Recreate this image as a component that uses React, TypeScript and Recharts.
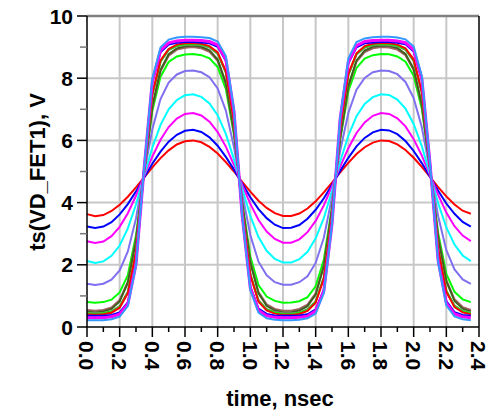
import React from 'react';
import { LineChart, Line, XAxis, YAxis, CartesianGrid, ReferenceLine } from 'recharts';

const time = [
  0, 0.05, 0.1, 0.15, 0.2, 0.25, 0.3, 0.35, 0.4, 0.45, 0.5, 0.55, 0.6, 0.65, 0.7, 0.75,
  0.8, 0.85, 0.9, 0.95, 1.0, 1.05, 1.1, 1.15, 1.2, 1.25, 1.3, 1.35, 1.4, 1.45, 1.5, 1.55,
  1.6, 1.65, 1.7, 1.75, 1.8, 1.85, 1.9, 1.95, 2.0, 2.05, 2.1, 2.15, 2.2, 2.25, 2.3, 2.35,
];

const vRed = [3.63, 3.56, 3.6, 3.73, 3.93, 4.19, 4.49, 4.81, 5.13, 5.43, 5.68, 5.87, 5.97, 6.0, 5.94, 5.79, 5.58, 5.3, 5.0, 4.67, 4.35, 4.06, 3.83, 3.66, 3.57, 3.57, 3.65, 3.81, 4.04, 4.33, 4.64, 4.97, 5.28, 5.56, 5.78, 5.93, 6.0, 5.98, 5.87, 5.69, 5.44, 5.15, 4.83, 4.5, 4.2, 3.94, 3.74, 3.64];
const vBlue = [3.23, 3.18, 3.23, 3.37, 3.62, 3.95, 4.36, 4.81, 5.25, 5.64, 5.96, 6.18, 6.31, 6.34, 6.27, 6.1, 5.83, 5.47, 5.06, 4.61, 4.17, 3.79, 3.5, 3.29, 3.18, 3.19, 3.28, 3.48, 3.77, 4.14, 4.57, 5.02, 5.44, 5.81, 6.08, 6.26, 6.34, 6.32, 6.2, 5.98, 5.66, 5.27, 4.83, 4.38, 3.97, 3.64, 3.38, 3.23];
const vMagenta = [2.76, 2.7, 2.75, 2.92, 3.22, 3.66, 4.22, 4.86, 5.48, 6.02, 6.43, 6.7, 6.85, 6.88, 6.8, 6.6, 6.27, 5.8, 5.21, 4.57, 3.96, 3.44, 3.07, 2.83, 2.71, 2.71, 2.82, 3.05, 3.41, 3.91, 4.52, 5.16, 5.75, 6.24, 6.58, 6.79, 6.88, 6.85, 6.71, 6.45, 6.04, 5.51, 4.88, 4.25, 3.68, 3.24, 2.94, 2.76];
const vCyan = [2.12, 2.06, 2.11, 2.29, 2.62, 3.17, 3.94, 4.87, 5.77, 6.5, 7.0, 7.3, 7.45, 7.48, 7.4, 7.19, 6.81, 6.21, 5.39, 4.45, 3.57, 2.89, 2.45, 2.19, 2.07, 2.07, 2.18, 2.42, 2.85, 3.5, 4.37, 5.32, 6.15, 6.78, 7.17, 7.39, 7.48, 7.46, 7.31, 7.02, 6.53, 5.81, 4.91, 3.98, 3.2, 2.65, 2.3, 2.12];
const vPurple = [1.39, 1.35, 1.39, 1.52, 1.82, 2.43, 3.49, 4.96, 6.36, 7.33, 7.86, 8.12, 8.23, 8.25, 8.19, 8.03, 7.67, 6.96, 5.78, 4.29, 2.96, 2.1, 1.66, 1.44, 1.36, 1.36, 1.44, 1.63, 2.06, 2.87, 4.17, 5.67, 6.88, 7.63, 8.01, 8.19, 8.25, 8.23, 8.13, 7.88, 7.36, 6.42, 5.02, 3.56, 2.47, 1.85, 1.53, 1.39];
const vGreen = [0.8, 0.78, 0.8, 0.88, 1.11, 1.67, 2.94, 5.0, 6.95, 8.05, 8.52, 8.7, 8.76, 8.78, 8.74, 8.64, 8.36, 7.66, 6.18, 4.04, 2.27, 1.35, 0.98, 0.84, 0.78, 0.79, 0.83, 0.96, 1.31, 2.16, 3.86, 6.02, 7.58, 8.33, 8.63, 8.74, 8.78, 8.77, 8.7, 8.53, 8.08, 7.02, 5.1, 3.02, 1.71, 1.13, 0.89, 0.8];
const vBrown = [0.55, 0.52, 0.55, 0.63, 0.87, 1.46, 2.81, 5.0, 7.06, 8.22, 8.72, 8.92, 8.98, 9.0, 8.96, 8.85, 8.56, 7.82, 6.25, 3.98, 2.1, 1.12, 0.73, 0.58, 0.52, 0.52, 0.58, 0.72, 1.08, 1.98, 3.79, 6.07, 7.72, 8.53, 8.84, 8.96, 9.0, 8.99, 8.92, 8.74, 8.26, 7.13, 5.1, 2.9, 1.51, 0.89, 0.64, 0.55];
const vOlive = [0.5, 0.47, 0.5, 0.58, 0.82, 1.42, 2.79, 5.0, 7.09, 8.27, 8.77, 8.96, 9.03, 9.05, 9.01, 8.9, 8.6, 7.85, 6.27, 3.97, 2.07, 1.08, 0.68, 0.53, 0.47, 0.47, 0.53, 0.67, 1.04, 1.95, 3.78, 6.09, 7.76, 8.57, 8.89, 9.01, 9.05, 9.04, 8.97, 8.78, 8.3, 7.16, 5.1, 2.88, 1.47, 0.84, 0.59, 0.5];
const vGray = [0.46, 0.44, 0.46, 0.51, 0.67, 1.13, 2.44, 5.06, 7.45, 8.53, 8.9, 9.03, 9.07, 9.08, 9.06, 8.99, 8.78, 8.18, 6.57, 3.79, 1.7, 0.86, 0.58, 0.48, 0.44, 0.44, 0.47, 0.57, 0.83, 1.6, 3.56, 6.37, 8.1, 8.76, 8.98, 9.06, 9.08, 9.07, 9.03, 8.91, 8.55, 7.53, 5.18, 2.53, 1.17, 0.69, 0.52, 0.46];
const vGreen2 = [0.44, 0.42, 0.44, 0.49, 0.65, 1.11, 2.43, 5.06, 7.47, 8.54, 8.92, 9.05, 9.09, 9.1, 9.08, 9.01, 8.8, 8.2, 6.58, 3.78, 1.69, 0.84, 0.56, 0.46, 0.42, 0.42, 0.45, 0.55, 0.81, 1.58, 3.56, 6.37, 8.11, 8.78, 9.0, 9.08, 9.1, 9.09, 9.05, 8.93, 8.57, 7.54, 5.18, 2.52, 1.16, 0.67, 0.5, 0.44];
const vRed2 = [0.41, 0.39, 0.41, 0.46, 0.62, 1.09, 2.41, 5.06, 7.49, 8.57, 8.94, 9.08, 9.12, 9.13, 9.11, 9.03, 8.83, 8.22, 6.59, 3.78, 1.67, 0.81, 0.53, 0.43, 0.39, 0.39, 0.42, 0.52, 0.78, 1.56, 3.55, 6.39, 8.14, 8.8, 9.03, 9.11, 9.13, 9.12, 9.08, 8.96, 8.6, 7.56, 5.18, 2.51, 1.13, 0.64, 0.47, 0.41];
const vBlue2 = [0.36, 0.36, 0.36, 0.39, 0.47, 0.79, 2.05, 5.12, 7.86, 8.83, 9.08, 9.14, 9.16, 9.16, 9.15, 9.12, 9.01, 8.56, 6.9, 3.59, 1.3, 0.59, 0.42, 0.37, 0.36, 0.36, 0.37, 0.41, 0.57, 1.2, 3.33, 6.67, 8.48, 8.99, 9.12, 9.15, 9.16, 9.16, 9.14, 9.09, 8.86, 7.94, 5.26, 2.15, 0.83, 0.48, 0.39, 0.36];
const vMagenta2 = [0.3, 0.3, 0.3, 0.33, 0.41, 0.74, 2.01, 5.12, 7.9, 8.89, 9.14, 9.2, 9.22, 9.22, 9.21, 9.18, 9.07, 8.61, 6.93, 3.58, 1.25, 0.53, 0.36, 0.31, 0.3, 0.3, 0.31, 0.35, 0.51, 1.15, 3.31, 6.7, 8.53, 9.05, 9.18, 9.21, 9.22, 9.22, 9.2, 9.14, 8.91, 7.99, 5.27, 2.12, 0.77, 0.42, 0.33, 0.3];
const vSky = [0.22, 0.22, 0.22, 0.25, 0.33, 0.67, 1.97, 5.14, 7.99, 8.99, 9.24, 9.31, 9.33, 9.33, 9.32, 9.29, 9.18, 8.71, 6.99, 3.57, 1.19, 0.46, 0.28, 0.23, 0.22, 0.22, 0.23, 0.28, 0.43, 1.09, 3.29, 6.75, 8.63, 9.16, 9.28, 9.32, 9.33, 9.33, 9.31, 9.25, 9.02, 8.07, 5.29, 2.07, 0.7, 0.34, 0.25, 0.22];

const xTicks = [0, 0.1, 0.2, 0.3, 0.4, 0.5, 0.6, 0.7, 0.8, 0.9, 1.0, 1.1, 1.2, 1.3, 1.4, 1.5, 1.6, 1.7, 1.8, 1.9, 2.0, 2.1, 2.2, 2.3, 2.4];
const xGrid = [0.2, 0.4, 0.6, 0.8, 1.0, 1.2, 1.4, 1.6, 1.8, 2.0, 2.2];
const yTicks = [0, 1, 2, 3, 4, 5, 6, 7, 8, 9, 10];
const yGrid = [2, 4, 6, 8];

const series = [
  { key: 'red', values: vRed, color: '#ff0000' },
  { key: 'blue', values: vBlue, color: '#0000ff' },
  { key: 'magenta', values: vMagenta, color: '#ff00ff' },
  { key: 'cyan', values: vCyan, color: '#00ffff' },
  { key: 'purple', values: vPurple, color: '#8070f0' },
  { key: 'green', values: vGreen, color: '#00ff00' },
  { key: 'brown', values: vBrown, color: '#a06060' },
  { key: 'olive', values: vOlive, color: '#406020' },
  { key: 'gray', values: vGray, color: '#808080' },
  { key: 'green2', values: vGreen2, color: '#00ff00' },
  { key: 'red2', values: vRed2, color: '#ff0000' },
  { key: 'blue2', values: vBlue2, color: '#0000ff' },
  { key: 'magenta2', values: vMagenta2, color: '#ff00ff', width: 3 },
  { key: 'sky', values: vSky, color: '#3399ff' },
];

const data = time.map((t, i) => {
  const row: Record<string, number> = { t };
  series.forEach((s) => {
    row[s.key] = s.values[i];
  });
  return row;
});

const font = '"Liberation Sans", Arial, sans-serif';

const XTick = (props: any) => {
  const { x, y, payload } = props;
  const v = payload.value;
  const major = Math.round(v * 10) % 2 === 0;
  const ly = y + 14;
  return (
    <g>
      <line x1={x} x2={x} y1={y} y2={y + (major ? 10 : 5)} stroke="#000" strokeWidth={1.5} />
      {major && (
        <text
          x={x}
          y={ly}
          dy="0.36em"
          textAnchor="start"
          transform={`rotate(90, ${x}, ${ly})`}
          fontFamily={font}
          fontWeight="bold"
          fontSize={21}
          fill="#000"
        >
          {v.toFixed(1)}
        </text>
      )}
    </g>
  );
};

const YTick = (props: any) => {
  const { x, y, payload } = props;
  const v = payload.value;
  const major = v % 2 === 0;
  return (
    <g>
      <line x1={x - (major ? 10 : 7)} x2={x} y1={y} y2={y} stroke={major ? '#000' : '#777'} strokeWidth={1.5} />
      {major && (
        <text x={x - 14} y={y} dy="0.36em" textAnchor="end" fontFamily={font} fontWeight="bold" fontSize={21} fill="#000">
          {v}
        </text>
      )}
    </g>
  );
};

const App = () => {
  return (
    <div style={{ position: 'absolute', left: 0, top: 0, width: 490, height: 416, background: '#fff' }}>
      <LineChart width={490} height={416} data={data} margin={{ top: 16, right: 11, bottom: 0, left: 0 }}>
        <CartesianGrid
          stroke="#c8c8c8"
          strokeWidth={2}
          horizontalValues={yGrid}
          verticalValues={xGrid}
        />
        <XAxis
          dataKey="t"
          type="number"
          domain={[0, 2.4]}
          ticks={xTicks}
          interval={0}
          height={89}
          tickSize={0}
          tickMargin={0}
          tickLine={false}
          axisLine={{ stroke: '#000', strokeWidth: 1.5 }}
          tick={<XTick />}
        />
        <YAxis
          type="number"
          domain={[0, 10]}
          ticks={yTicks}
          interval={0}
          width={87}
          tickSize={0}
          tickMargin={0}
          tickLine={false}
          axisLine={{ stroke: '#000', strokeWidth: 1.5 }}
          tick={<YTick />}
        />
        {series.map((s) => (
          <Line
            key={s.key}
            dataKey={s.key}
            type="linear"
            stroke={s.color}
            strokeWidth={s.width ?? 2}
            dot={false}
            isAnimationActive={false}
          />
        ))}
        <ReferenceLine y={10} stroke="#808080" strokeWidth={2.5} />
        <ReferenceLine x={2.4} stroke="#000" strokeWidth={1.5} />
      </LineChart>
      <div
        style={{
          position: 'absolute',
          left: 180,
          top: 386,
          width: 200,
          textAlign: 'center',
          fontFamily: font,
          fontWeight: 'bold',
          fontSize: 22,
          lineHeight: '26px',
        }}
      >
        time, nsec
      </div>
      <div
        style={{
          position: 'absolute',
          left: 38 - 110,
          top: 172 - 13,
          width: 220,
          textAlign: 'center',
          transform: 'rotate(-90deg)',
          fontFamily: font,
          fontWeight: 'bold',
          fontSize: 22,
          lineHeight: '26px',
        }}
      >
        ts(VD_FET1), V
      </div>
    </div>
  );
};

export default App;
